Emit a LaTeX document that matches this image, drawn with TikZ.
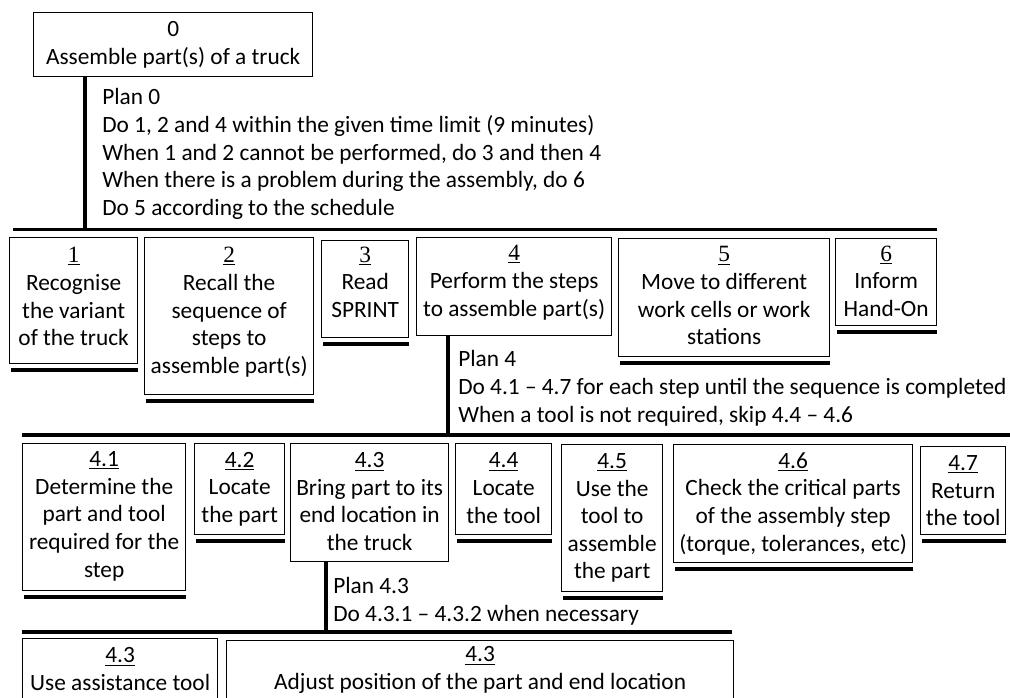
\documentclass[tikz,border=0pt]{standalone}
\usepackage{fontspec}
\setmainfont{Carlito}
\newfontfamily\numfont{Liberation Serif}
\usetikzlibrary{calc}
\newcommand\boxfont{\fontsize{17.5}{20.7}\selectfont}
% \tbox[shift up in px]{name}{x1}{y1}{x2}{y2}{text}
\newcommand\tbox[7][0]{\node[taskbox, minimum width={(#5-#3)*0.75pt}, minimum height={(#6-#4)*0.75pt}, label={[boxtext, yshift={#1*0.75pt}]center:{#7}}] (#2) at (#3,#4) {};}
\newcommand\leafbar[1]{\draw[barline] ($(#1.south west)+(2,5.5)$) -- ($(#1.south east)+(0,5.5)$);}
\newcommand\tn[1]{\underline{\numfont #1}}
\newcommand\sn[1]{\underline{#1}}
\tikzset{
  taskbox/.style={draw, line width=1pt, inner sep=0pt, anchor=north west},
  boxtext/.style={align=center, inner sep=0pt, font=\boxfont},
  plantext/.style={align=left, inner sep=0pt, anchor=north west, font=\boxfont},
  barline/.style={line width=2.7pt}
}
\begin{document}
\begin{tikzpicture}[x=0.75pt,y=-0.75pt]
\useasboundingbox (0,0) rectangle (1010,697);
\clip (0,0) rectangle (1010,697);
% level 0
\tbox{b0}{33}{12}{312}{76}{0\\Assemble part(s) of a truck}
\coordinate (j0) at (85,229.5);
\coordinate (bar1l) at (13,229.5);
\coordinate (bar1r) at (937,229.5);
\draw[barline] (j0 |- b0.south) -- (j0);
\draw[barline] (bar1l) -- (bar1r);
\node[plantext] (p0) at (102,88.5) {Plan 0\\Do 1, 2 and 4 within the given time limit (9 minutes)\\When 1 and 2 cannot be performed, do 3 and then 4\\When there is a problem during the assembly, do 6\\Do 5 according to the schedule};
% level 1
\tbox[4]{b1}{9}{237}{137}{363}{\tn{1}\\Recognise\\the variant\\of the truck}
\tbox[4]{b2}{144}{237}{313}{394}{\tn{2}\\Recall the\\sequence of\\steps to\\assemble part(s)}
\tbox[7]{b3}{321}{240}{408}{337}{\tn{3}\\Read\\SPRINT}
\tbox[4]{b4}{416}{237}{611}{335}{\tn{4}\\Perform the steps\\to assemble part(s)}
\tbox[2]{b5}{618}{238}{829}{356}{\tn{5}\\Move to different\\work cells or work\\stations}
\tbox[1]{b6}{835}{238}{936}{325}{\tn{6}\\Inform\\Hand-On}
\leafbar{b1}\leafbar{b2}\leafbar{b3}\leafbar{b5}\leafbar{b6}
\coordinate (j4) at (448,435);
\coordinate (bar2l) at (22,435);
\coordinate (bar2r) at (1012,435);
\draw[barline] (j4 |- b4.south) -- (j4);
\draw[barline] (bar2l) -- (bar2r);
\node[plantext] (p4) at (458,350.5) {Plan 4\\Do 4.1 -- 4.7 for each step until the sequence is completed\\When a tool is not required, skip 4.4 -- 4.6};
% level 2
\tbox[1]{b41}{22}{443}{185}{590}{\sn{4.1}\\Determine the\\part and tool\\required for the\\step}
\tbox{b42}{194}{443}{284}{534}{\sn{4.2}\\Locate\\the part}
\tbox[1]{b43}{290}{443}{448}{561}{\sn{4.3}\\Bring part to its\\end location in\\the truck}
\tbox[1]{b44}{455}{443}{551}{534}{\sn{4.4}\\Locate\\the tool}
\tbox{b45}{561}{444}{662}{591}{\sn{4.5}\\Use the\\tool to\\assemble\\the part}
\tbox{b46}{673}{444}{912}{562}{\sn{4.6}\\Check the critical parts\\of the assembly step\\(torque, tolerances, etc)}
\tbox{b47}{920}{446}{1005}{534}{\sn{4.7}\\Return\\the tool}
\leafbar{b41}\leafbar{b42}\leafbar{b44}\leafbar{b45}\leafbar{b46}\leafbar{b47}
\coordinate (j43) at (326,632);
\coordinate (bar3l) at (22,632);
\coordinate (bar3r) at (732,632);
\draw[barline] (j43 |- b43.south) -- (j43);
\draw[barline] (bar3l) -- (bar3r);
\node[plantext] (p43) at (333,577) {Plan 4.3\\Do 4.3.1 -- 4.3.2 when necessary};
% level 3
\tbox{b431}{22}{638}{217}{699}{\sn{4.3}\\Use assistance tool}
\tbox{b432}{226}{640}{733}{699}{\sn{4.3}\\Adjust position of the part and end location}
\end{tikzpicture}
\end{document}
